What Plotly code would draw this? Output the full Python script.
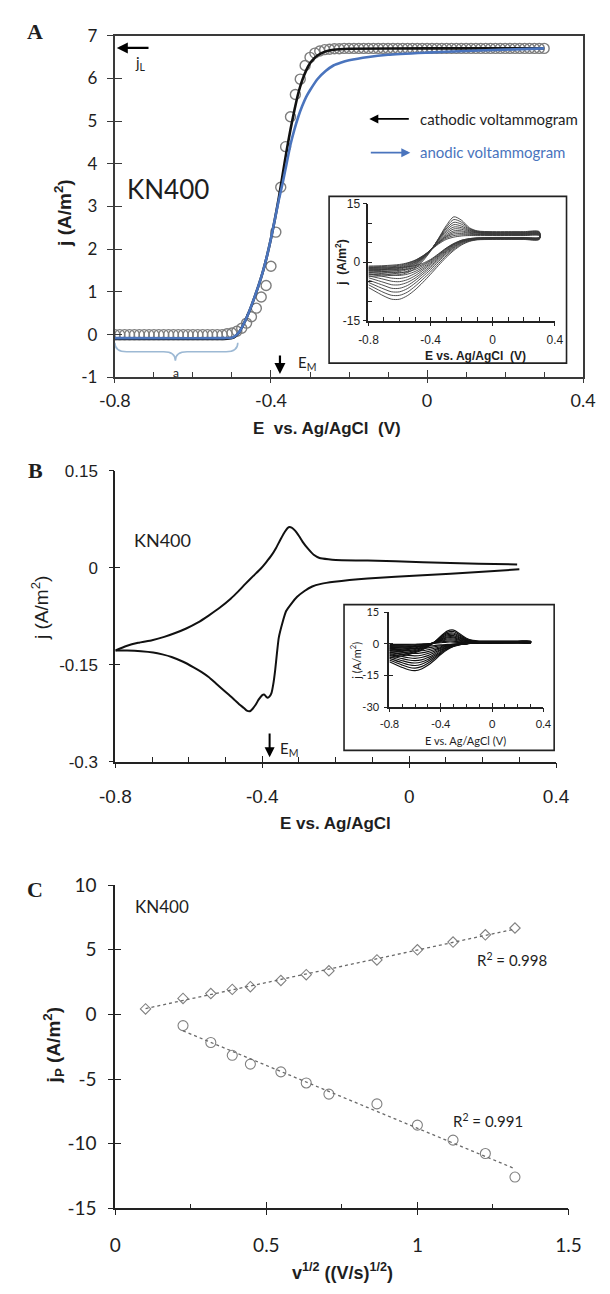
import numpy as np
import plotly.graph_objects as go

W, H = 610, 1294


def px(X):
    return X / W


def py(Y):
    return 1 - Y / H


LATO = "Lato, Carlito, sans-serif"
ARIAL = "Liberation Sans, Arial, sans-serif"
SERIF = "Liberation Serif, Times New Roman, serif"
INK = "#1e1e1e"
AXC = "#3a3a3a"
BLUE = "#4a74bd"
GREY = "#808080"

# ---------------- Panel A data ----------------
A_fit_E = [-0.8, -0.7875, -0.775, -0.7625, -0.75, -0.7375, -0.725, -0.7125, -0.7, -0.6875,
           -0.675, -0.6625, -0.65, -0.6375, -0.625, -0.6125, -0.6, -0.5875, -0.575, -0.5625,
           -0.55, -0.5375, -0.525, -0.5125, -0.5, -0.4875, -0.475, -0.4625, -0.45, -0.4375,
           -0.425, -0.4125, -0.4, -0.3875, -0.375, -0.3625, -0.35, -0.3375, -0.325, -0.3125,
           -0.3, -0.2875, -0.275, -0.2625, -0.25, -0.2375, -0.225, -0.2125, -0.2, -0.1875,
           -0.175, -0.1625, -0.15, -0.1375, -0.125, -0.1125, -0.1, -0.0875, -0.075, -0.0625,
           -0.05, -0.0375, -0.025, -0.0125, 0.0, 0.0125, 0.025, 0.0375, 0.05, 0.0625,
           0.075, 0.0875, 0.1, 0.1125, 0.125, 0.1375, 0.15, 0.1625, 0.175, 0.1875,
           0.2, 0.2125, 0.225, 0.2375, 0.25, 0.2625, 0.275, 0.2875, 0.3]
A_fit_j = ([0.0] * 23
           + [0.02, 0.04, 0.08, 0.15, 0.27, 0.42, 0.62, 0.88, 1.15, 1.6, 2.4, 3.45, 4.4,
              5.1, 5.62, 5.98, 6.3, 6.49, 6.59, 6.64, 6.67, 6.68, 6.69, 6.69, 6.7, 6.7]
           + [6.7] * 40)

A_cath_E = [-0.8, -0.6, -0.52, -0.5, -0.49, -0.48, -0.47, -0.46, -0.45, -0.44, -0.43, -0.42,
            -0.41, -0.40, -0.39, -0.38, -0.37, -0.36, -0.35, -0.34, -0.33, -0.32, -0.31, -0.30,
            -0.29, -0.28, -0.26, -0.24, -0.2, 0.0, 0.3]
A_cath_j = [-0.1, -0.1, -0.1, -0.08, -0.03, 0.08, 0.25, 0.45, 0.68, 0.93, 1.2, 1.5, 1.85, 2.25,
            2.7, 3.2, 3.75, 4.3, 4.8, 5.25, 5.65, 5.95, 6.18, 6.35, 6.46, 6.54, 6.63, 6.67,
            6.69, 6.7, 6.7]

A_anod_E = [-0.8, -0.52, -0.5, -0.49, -0.48, -0.47, -0.46, -0.45, -0.44, -0.43, -0.42, -0.41,
            -0.40, -0.39, -0.38, -0.37, -0.36, -0.35, -0.34, -0.33, -0.32, -0.31, -0.30, -0.28,
            -0.26, -0.24, -0.22, -0.2, -0.15, -0.1, 0.0, 0.1, 0.2, 0.3]
A_anod_j = [-0.08, -0.08, -0.07, -0.02, 0.08, 0.25, 0.45, 0.68, 0.93, 1.2, 1.5, 1.85, 2.25,
            2.7, 3.15, 3.55, 4.0, 4.45, 4.8, 5.1, 5.35, 5.56, 5.72, 5.99, 6.17, 6.3, 6.37,
            6.42, 6.5, 6.55, 6.6, 6.64, 6.67, 6.7]

A_xticks = [-0.8, -0.4, 0, 0.4]
A_xticktext = ["-0.8", "-0.4", "0", "0.4"]
A_xminor = [-0.7, -0.6, -0.5, -0.3, -0.2, -0.1, 0.1, 0.2, 0.3]
A_yticks = [-1, 0, 1, 2, 3, 4, 5, 6, 7]
A_yticktext = ["-1", "0", "1", "2", "3", "4", "5", "6", "7"]

A_E_M = -0.377
A_jL = 6.71

# Inset of panel A (CVs at several scan rates)
IA_E_up = [-0.8, -0.7, -0.6, -0.55, -0.5, -0.45, -0.4, -0.35, -0.3, -0.25, -0.2, -0.15, -0.1,
           0.0, 0.1, 0.2, 0.3]
IA_j_up = [
    [-1.0, -0.9, -0.6, -0.2, 0.5, 1.6, 3.0, 4.6, 5.8, 6.4, 6.7, 6.8, 6.8, 6.8, 6.8, 6.8, 6.8],
    [-1.2, -1.1, -0.8, -0.3, 0.4, 1.6, 3.1, 4.8, 6.1, 6.8, 7.0, 7.0, 7.0, 6.9, 6.9, 6.9, 6.9],
    [-1.4, -1.3, -1.0, -0.5, 0.3, 1.5, 3.1, 4.9, 6.4, 7.2, 7.3, 7.2, 7.1, 7.0, 7.0, 7.0, 7.0],
    [-1.6, -1.5, -1.2, -0.7, 0.1, 1.4, 3.1, 5.0, 6.6, 7.6, 7.7, 7.4, 7.2, 7.1, 7.1, 7.1, 7.1],
    [-1.8, -1.7, -1.4, -0.9, 0.0, 1.3, 3.1, 5.1, 6.9, 8.0, 8.0, 7.6, 7.4, 7.2, 7.2, 7.2, 7.2],
    [-2.0, -1.9, -1.6, -1.1, -0.2, 1.2, 3.1, 5.3, 7.3, 8.5, 8.4, 7.8, 7.5, 7.3, 7.3, 7.3, 7.3],
    [-2.2, -2.1, -1.8, -1.3, -0.4, 1.1, 3.1, 5.5, 7.7, 9.0, 8.8, 8.0, 7.6, 7.4, 7.4, 7.4, 7.4],
    [-2.5, -2.4, -2.1, -1.6, -0.6, 1.0, 3.1, 5.7, 8.1, 9.6, 9.2, 8.2, 7.7, 7.5, 7.5, 7.5, 7.5],
    [-2.8, -2.7, -2.4, -1.9, -0.9, 0.8, 3.0, 5.8, 8.5, 10.2, 9.7, 8.4, 7.8, 7.6, 7.6, 7.6, 7.6],
    [-3.2, -3.1, -2.8, -2.3, -1.2, 0.6, 2.9, 5.9, 8.9, 10.9, 10.2, 8.6, 7.9, 7.7, 7.7, 7.7, 7.7],
    [-3.6, -3.5, -3.2, -2.7, -1.6, 0.3, 2.8, 6.0, 9.3, 11.6, 10.7, 8.8, 8.0, 7.8, 7.8, 7.8, 7.8],
]
IA_E_dn = [0.3, 0.2, 0.1, 0.0, -0.1, -0.15, -0.2, -0.25, -0.3, -0.35, -0.4, -0.45, -0.5, -0.55,
           -0.6, -0.65, -0.7, -0.8]
IA_j_dn = [
    [6.3, 6.3, 6.3, 6.3, 6.2, 6.0, 5.6, 4.8, 3.6, 2.1, 0.7, -0.3, -0.9, -1.2, -1.4, -1.5, -1.5, -1.5],
    [6.3, 6.3, 6.3, 6.3, 6.2, 6.0, 5.6, 4.7, 3.5, 2.0, 0.5, -0.6, -1.4, -1.8, -2.0, -2.0, -1.9, -1.8],
    [6.2, 6.2, 6.2, 6.2, 6.1, 5.9, 5.5, 4.6, 3.4, 1.8, 0.3, -0.9, -1.9, -2.5, -2.7, -2.6, -2.4, -2.2],
    [6.2, 6.2, 6.2, 6.2, 6.1, 5.9, 5.4, 4.5, 3.2, 1.6, 0.0, -1.3, -2.4, -3.1, -3.4, -3.3, -3.0, -2.6],
    [6.1, 6.1, 6.1, 6.1, 6.0, 5.8, 5.3, 4.4, 3.0, 1.4, -0.3, -1.7, -2.9, -3.8, -4.2, -4.1, -3.7, -3.0],
    [6.1, 6.1, 6.1, 6.1, 6.0, 5.8, 5.2, 4.2, 2.8, 1.1, -0.6, -2.1, -3.5, -4.5, -5.0, -4.9, -4.4, -3.5],
    [6.0, 6.0, 6.0, 6.0, 5.9, 5.7, 5.1, 4.0, 2.6, 0.8, -1.0, -2.6, -4.1, -5.2, -5.8, -5.8, -5.2, -4.0],
    [6.0, 6.0, 6.0, 6.0, 5.9, 5.6, 5.0, 3.8, 2.3, 0.5, -1.4, -3.1, -4.7, -6.0, -6.7, -6.7, -6.0, -4.6],
    [5.9, 5.9, 5.9, 5.9, 5.8, 5.5, 4.8, 3.6, 2.0, 0.1, -1.9, -3.7, -5.4, -6.8, -7.6, -7.6, -6.9, -5.2],
    [5.9, 5.9, 5.9, 5.9, 5.8, 5.4, 4.6, 3.3, 1.6, -0.4, -2.5, -4.4, -6.2, -7.7, -8.5, -8.5, -7.8, -5.8],
    [5.8, 5.8, 5.8, 5.8, 5.7, 5.3, 4.4, 3.0, 1.2, -0.9, -3.1, -5.2, -7.1, -8.6, -9.5, -9.5, -8.7, -6.5],
]
IA_yticks = [-15, 0, 15]
IA_yticktext = ["-15", "0", "15"]
IA_yminor = [-10, -5, 5, 10]

# ---------------- Panel B data ----------------
B_E_fwd = [-0.8, -0.77, -0.738, -0.70, -0.667, -0.637, -0.607, -0.576, -0.546, -0.516, -0.486,
           -0.466, -0.446, -0.425, -0.405, -0.39, -0.375, -0.362, -0.35, -0.338, -0.328, -0.32,
           -0.31, -0.30, -0.29, -0.275, -0.26, -0.244, -0.22, -0.2, -0.113, 0.037, 0.189, 0.294]
B_j_fwd = [-0.128, -0.121, -0.116, -0.112, -0.107, -0.101, -0.094, -0.085, -0.074, -0.062, -0.048,
           -0.037, -0.025, -0.013, -0.002, 0.008, 0.019, 0.031, 0.044, 0.056, 0.0625, 0.062,
           0.057, 0.049, 0.040, 0.029, 0.020, 0.015, 0.013, 0.012, 0.011, 0.0086, 0.006, 0.005]
B_E_rev = [0.3, 0.189, 0.037, -0.113, -0.204, -0.24, -0.264, -0.285, -0.305, -0.32, -0.335, -0.345,
           -0.355, -0.36, -0.365, -0.37, -0.375, -0.38, -0.385, -0.39, -0.395, -0.40, -0.41, -0.418,
           -0.426, -0.434, -0.442, -0.45, -0.463, -0.476, -0.49, -0.506, -0.526, -0.546, -0.566,
           -0.587, -0.617, -0.647, -0.672, -0.697, -0.73, -0.768, -0.8]
B_j_rev = [-0.0025, -0.0066, -0.0117, -0.0167, -0.0218, -0.025, -0.029, -0.036, -0.045, -0.055,
           -0.067, -0.085, -0.108, -0.132, -0.159, -0.180, -0.194, -0.199, -0.201, -0.199, -0.196,
           -0.197, -0.204, -0.212, -0.218, -0.222, -0.221, -0.217, -0.211, -0.204, -0.197, -0.189,
           -0.179, -0.169, -0.161, -0.154, -0.145, -0.138, -0.134, -0.131, -0.129, -0.128, -0.128]
B_yticks = [-0.3, -0.15, 0, 0.15]
B_yticktext = ["-0.3", "-0.15", "0", "0.15"]
B_E_M = -0.380

IB_j_up = [
    [-0.3, -0.3, -0.2, -0.1, 0.0, 0.2, 0.5, 0.8, 0.8, 0.6, 0.5, 0.4, 0.4, 0.4, 0.4, 0.4, 0.4],
    [-0.8, -0.7, -0.5, -0.3, 0.0, 0.4, 0.9, 1.3, 1.3, 0.9, 0.6, 0.5, 0.5, 0.5, 0.5, 0.5, 0.5],
    [-1.3, -1.1, -0.8, -0.5, -0.1, 0.5, 1.2, 1.8, 1.8, 1.2, 0.8, 0.6, 0.6, 0.6, 0.6, 0.6, 0.6],
    [-1.8, -1.6, -1.2, -0.8, -0.2, 0.5, 1.5, 2.3, 2.3, 1.6, 1.0, 0.7, 0.7, 0.7, 0.7, 0.7, 0.7],
    [-2.3, -2.0, -1.5, -1.0, -0.3, 0.6, 1.8, 2.8, 2.8, 1.9, 1.2, 0.8, 0.8, 0.8, 0.8, 0.8, 0.8],
    [-2.9, -2.5, -1.9, -1.3, -0.4, 0.7, 2.1, 3.3, 3.3, 2.3, 1.4, 0.9, 0.9, 0.9, 0.9, 0.9, 0.9],
    [-3.5, -3.0, -2.3, -1.6, -0.6, 0.7, 2.4, 3.8, 3.9, 2.7, 1.6, 1.0, 1.0, 1.0, 1.0, 1.0, 1.0],
    [-4.2, -3.6, -2.7, -1.9, -0.8, 0.7, 2.7, 4.3, 4.5, 3.1, 1.8, 1.1, 1.0, 1.0, 1.0, 1.0, 1.0],
    [-5.0, -4.3, -3.2, -2.3, -1.0, 0.7, 3.0, 4.8, 5.1, 3.6, 2.0, 1.2, 1.1, 1.1, 1.1, 1.1, 1.1],
    [-5.8, -5.0, -3.7, -2.7, -1.2, 0.7, 3.3, 5.4, 5.8, 4.1, 2.3, 1.4, 1.2, 1.2, 1.2, 1.2, 1.2],
    [-6.6, -5.7, -4.2, -3.1, -1.4, 0.7, 3.6, 6.0, 6.5, 4.6, 2.6, 1.6, 1.3, 1.3, 1.3, 1.3, 1.3],
]
IB_j_dn = [
    [0.3, 0.3, 0.3, 0.3, 0.2, 0.2, 0.1, 0.0, -0.1, -0.3, -0.5, -0.8, -1.0, -1.2, -1.3, -1.2, -1.1, -0.9],
    [0.4, 0.4, 0.4, 0.3, 0.3, 0.2, 0.1, 0.0, -0.2, -0.5, -0.9, -1.4, -1.9, -2.2, -2.3, -2.2, -2.0, -1.6],
    [0.5, 0.5, 0.4, 0.4, 0.3, 0.2, 0.1, -0.1, -0.3, -0.7, -1.4, -2.1, -2.8, -3.3, -3.5, -3.3, -3.0, -2.4],
    [0.5, 0.5, 0.5, 0.4, 0.3, 0.2, 0.1, -0.1, -0.4, -0.9, -1.8, -2.8, -3.7, -4.3, -4.6, -4.4, -4.0, -3.1],
    [0.6, 0.6, 0.5, 0.5, 0.4, 0.3, 0.1, -0.1, -0.5, -1.1, -2.2, -3.5, -4.6, -5.4, -5.7, -5.5, -5.0, -3.9],
    [0.7, 0.7, 0.6, 0.5, 0.4, 0.3, 0.1, -0.2, -0.6, -1.4, -2.7, -4.2, -5.6, -6.5, -6.9, -6.6, -6.0, -4.6],
    [0.7, 0.7, 0.7, 0.6, 0.5, 0.3, 0.1, -0.2, -0.7, -1.6, -3.1, -4.9, -6.5, -7.6, -8.0, -7.7, -7.0, -5.4],
    [0.8, 0.8, 0.7, 0.6, 0.5, 0.3, 0.1, -0.3, -0.9, -1.9, -3.6, -5.6, -7.4, -8.6, -9.1, -8.8, -8.0, -6.1],
    [0.9, 0.9, 0.8, 0.7, 0.6, 0.4, 0.1, -0.3, -1.0, -2.2, -4.1, -6.3, -8.3, -9.7, -10.3, -9.9, -9.0, -6.9],
    [0.9, 0.9, 0.9, 0.8, 0.6, 0.4, 0.1, -0.4, -1.1, -2.5, -4.6, -7.0, -9.2, -10.8, -11.5, -11.1, -10.1, -7.7],
    [1.0, 1.0, 0.9, 0.8, 0.7, 0.4, 0.1, -0.4, -1.3, -2.8, -5.1, -7.8, -10.2, -11.9, -12.7, -12.3, -11.2, -8.5],
]
IB_yticks = [-30, -15, 0, 15]
IB_yticktext = ["-30", "-15", "0", "15"]

# ---------------- Panel C data ----------------
C_sqrt_v = [0.1, 0.224, 0.316, 0.387, 0.447, 0.548, 0.632, 0.707, 0.866, 1.0, 1.118, 1.225, 1.323]
C_jp_anodic = [0.43, 1.24, 1.62, 1.94, 2.15, 2.63, 3.08, 3.38, 4.22, 5.0, 5.6, 6.16, 6.69]
C_sqrt_v_cath = [0.224, 0.316, 0.387, 0.447, 0.548, 0.632, 0.707, 0.866, 1.0, 1.118, 1.225, 1.323]
C_jp_cathodic = [-0.86, -2.17, -3.16, -3.84, -4.44, -5.3, -6.16, -6.92, -8.56, -9.72, -10.76, -12.58]
C_xticks = [0, 0.5, 1, 1.5]
C_xticktext = ["0", "0.5", "1", "1.5"]
C_xminor = [0.25, 0.75, 1.25]
C_yticks = [-15, -10, -5, 0, 5, 10]
C_yticktext = ["-15", "-10", "-5", "0", "5", "10"]

E_ticks = [-0.8, -0.4, 0, 0.4]
E_ticktext = ["-0.8", "-0.4", "0", "0.4"]
E_minor = [-0.7, -0.6, -0.5, -0.3, -0.2, -0.1, 0.1, 0.2, 0.3]

# ---------------- Figure ----------------
fig = go.Figure()

# Panel A main
fig.add_trace(go.Scatter(x=A_fit_E, y=A_fit_j, mode="markers", xaxis="x", yaxis="y",
                         marker=dict(symbol="circle-open", size=10, color="#7d7d7d",
                                     line=dict(width=1.4))))
fig.add_trace(go.Scatter(x=A_cath_E, y=A_cath_j, mode="lines", xaxis="x", yaxis="y",
                         line=dict(color="#111111", width=2.6, shape="spline", smoothing=0.6)))
fig.add_trace(go.Scatter(x=A_anod_E, y=A_anod_j, mode="lines", xaxis="x", yaxis="y",
                         line=dict(color=BLUE, width=2.6, shape="spline", smoothing=0.6)))

# Panel A inset
for up, dn in zip(IA_j_up, IA_j_dn):
    fig.add_trace(go.Scatter(x=IA_E_up + IA_E_dn, y=up + dn, mode="lines", xaxis="x2", yaxis="y2",
                             line=dict(color="#3a3a3a", width=0.9, shape="spline", smoothing=0.8)))

# Panel B main
for xs, ys in ((B_E_fwd, B_j_fwd), (B_E_rev, B_j_rev)):
    fig.add_trace(go.Scatter(x=xs, y=ys, mode="lines", xaxis="x3", yaxis="y3",
                             line=dict(color="#111111", width=2.0, shape="spline", smoothing=0.5)))

# Panel B inset
for up, dn in zip(IB_j_up, IB_j_dn):
    fig.add_trace(go.Scatter(x=IA_E_up + IA_E_dn, y=up + dn, mode="lines", xaxis="x4", yaxis="y4",
                             line=dict(color="#111111", width=1.15, shape="spline", smoothing=0.8)))

# Panel C
fig.add_trace(go.Scatter(x=C_sqrt_v, y=C_jp_anodic, mode="markers", xaxis="x5", yaxis="y5",
                         marker=dict(symbol="diamond-open", size=8, color=GREY, line=dict(width=1.1))))
fig.add_trace(go.Scatter(x=C_sqrt_v_cath, y=C_jp_cathodic, mode="markers", xaxis="x5", yaxis="y5",
                         marker=dict(symbol="circle-open", size=10, color=GREY, line=dict(width=1.1))))
for xs, ys in ((C_sqrt_v, C_jp_anodic), (C_sqrt_v_cath, C_jp_cathodic)):
    k, b = np.polyfit(xs, ys, 1)
    xl = [min(xs), max(xs)]
    fig.add_trace(go.Scatter(x=xl, y=[k * v + b for v in xl], mode="lines", xaxis="x5", yaxis="y5",
                             line=dict(color="#6a6a6a", width=1.3, dash="dot")))

# dummy traces so overlay tick axes are drawn
for xa, ya in (("x6", "y"), ("x", "y6"), ("x7", "y2"), ("x2", "y7"), ("x8", "y3"), ("x3", "y8"),
               ("x9", "y4"), ("x4", "y9"), ("x10", "y5"), ("x5", "y10")):
    fig.add_trace(go.Scatter(x=[None], y=[None], xaxis=xa, yaxis=ya, mode="markers",
                             hoverinfo="skip"))


def base_axis(domain, rng, anchor, tickvals, minorvals=None, mirror=False, lw=1.5, lc=AXC,
              tl=6, ml=5):
    d = dict(domain=domain, range=rng, anchor=anchor, tickmode="array", tickvals=tickvals,
             ticks="inside", ticklen=tl, tickwidth=1.3, tickcolor=lc, showticklabels=False,
             showline=True, linecolor=lc, linewidth=lw, mirror=mirror, showgrid=False,
             zeroline=False, fixedrange=True)
    if minorvals:
        d["minor"] = dict(tickmode="array", tickvals=minorvals, ticks="inside", ticklen=ml,
                          tickwidth=1.1, tickcolor=lc, showgrid=False)
    return d


def over_axis(base, domain, rng, anchor, tickvals, ticktext, font, size, standoff, side, lc=AXC,
              tl=6):
    return dict(overlaying=base, domain=domain, range=rng, anchor=anchor, side=side,
                tickmode="array", tickvals=tickvals, ticktext=ticktext, ticks="outside",
                ticklen=tl, tickwidth=1.3, tickcolor=lc, showticklabels=True,
                tickfont=dict(family=font, size=size, color=INK), ticklabelstandoff=standoff,
                showline=False, showgrid=False, zeroline=False, fixedrange=True)


dA_x = [px(104), px(596.5)]
dA_y = [py(372), py(24)]
dIA_x = [px(370.7), px(566.7)]
dIA_y = [py(314.3), py(195)]
dB_x = [px(104.5), px(568)]
dB_y = [py(763.3), py(467)]
dIB_x = [px(392.7), px(554.7)]
dIB_y = [py(707.7), py(611)]
dC_x = [px(104.5), px(581)]
dC_y = [py(1218), py(889)]

rA_x, rA_y = [-0.8, 0.4], [-1, 7]
rIA_y = [-15, 15]
rB_y = [-0.3, 0.15]
rIB_y = [-30, 15]
rC_x, rC_y = [0, 1.5], [-15, 10]

layout_axes = dict(
    xaxis=base_axis(dA_x, rA_x, "y", A_xticks, A_xminor, mirror=True, lw=1.8, tl=7),
    yaxis=base_axis(dA_y, rA_y, "x", A_yticks, mirror=True, lw=1.8, tl=7),
    xaxis6=over_axis("x", dA_x, rA_x, "y", A_xticks, A_xticktext, LATO, 18, 2, "bottom", tl=5),
    yaxis6=over_axis("y", dA_y, rA_y, "x", A_yticks, A_yticktext, LATO, 17, 6, "left", tl=7),

    xaxis2=base_axis(dIA_x, rA_x, "y2", E_ticks, E_minor, lc="#222222", tl=4, ml=4),
    yaxis2=base_axis(dIA_y, rIA_y, "x2", IA_yticks, IA_yminor, lc="#222222", tl=4, ml=4),
    xaxis7=over_axis("x2", dIA_x, rA_x, "y2", E_ticks, E_ticktext, ARIAL, 12, 4, "bottom",
                     lc="#222222", tl=4),
    yaxis7=over_axis("y2", dIA_y, rIA_y, "x2", IA_yticks, IA_yticktext, ARIAL, 12, 1, "left",
                     lc="#222222", tl=4),

    xaxis3=base_axis(dB_x, rA_x, "y3", E_ticks, E_minor, lc="#222222", tl=6),
    yaxis3=base_axis(dB_y, rB_y, "x3", B_yticks, lc="#222222", tl=5),
    xaxis8=over_axis("x3", dB_x, rA_x, "y3", E_ticks, E_ticktext, ARIAL, 19, 12, "bottom",
                     lc="#222222", tl=5),
    yaxis8=over_axis("y3", dB_y, rB_y, "x3", B_yticks, B_yticktext, ARIAL, 17, 8, "left",
                     lc="#222222", tl=5),

    xaxis4=base_axis(dIB_x, rA_x, "y4", E_ticks, E_minor, lc="#222222", tl=4, ml=3),
    yaxis4=base_axis(dIB_y, rIB_y, "x4", IB_yticks, lc="#222222", tl=4),
    xaxis9=over_axis("x4", dIB_x, rA_x, "y4", E_ticks, E_ticktext, LATO, 11, 3, "bottom",
                     lc="#222222", tl=4),
    yaxis9=over_axis("y4", dIB_y, rIB_y, "x4", IB_yticks, IB_yticktext, LATO, 11, 3, "left",
                     lc="#222222", tl=4),

    xaxis5=base_axis(dC_x, rC_x, "y5", C_xticks, C_xminor, lc="#222222", tl=7),
    yaxis5=base_axis(dC_y, rC_y, "x5", C_yticks, lc="#222222", tl=6),
    xaxis10=over_axis("x5", dC_x, rC_x, "y5", C_xticks, C_xticktext, LATO, 19, 14, "bottom",
                      lc="#222222", tl=6),
    yaxis10=over_axis("y5", dC_y, rC_y, "x5", C_yticks, C_yticktext, LATO, 19, 8, "left",
                      lc="#222222", tl=6),
)


def note(text, X, Y, font, size, color=INK, angle=0, xanchor="center"):
    return dict(text=text, x=px(X), y=py(Y), xref="paper", yref="paper", showarrow=False,
                xanchor=xanchor, yanchor="middle", textangle=angle,
                font=dict(family=font, size=size, color=color))


def arrow(x, y, ax, ay, xr, yr, color="black", width=2.2, head=2, size=1.0):
    return dict(x=x, y=y, ax=ax, ay=ay, xref=xr, yref=yr, axref=xr, ayref=yr, text="",
                showarrow=True, arrowhead=head, arrowsize=size, arrowwidth=width,
                arrowcolor=color)


annotations = [
    # panel letters
    note("<b>A</b>", 20, 20, SERIF, 22),
    note("<b>B</b>", 20, 467, SERIF, 22),
    note("<b>C</b>", 20, 893, SERIF, 22),
    # Panel A
    note("<b>j (A/m<sup>2</sup>)</b>", 50, 205, ARIAL, 19, angle=-90),
    note("<b>E  vs. Ag/AgCl  (V)</b>", 327, 424, ARIAL, 17),
    note("KN400", 160, 180, LATO, 26),
    note("j<sub>L</sub>", 131, 52, LATO, 15),
    note("E<sub>M</sub>", 295, 357, LATO, 15, xanchor="left"),
    note("a", 168, 367, LATO, 12),
    note("cathodic voltammogram", 423, 109, LATO, 15, xanchor="left"),
    note("anodic voltammogram", 423, 143, LATO, 15, color=BLUE, xanchor="left"),
    arrow(-0.795, A_jL, -0.71, A_jL, "x", "y", width=2.2),
    arrow(A_E_M, -0.92, A_E_M, -0.45, "x", "y", width=2.2),
    arrow(-0.148, 5.05, -0.043, 5.05, "x", "y", width=1.8),
    arrow(-0.043, 4.26, -0.148, 4.26, "x", "y", color=BLUE, width=1.8),
    # Inset A
    note("<b>j  (A/m<sup>2</sup>)</b>", 342, 255, ARIAL, 12, angle=-90),
    note("<b>E vs. Ag/AgCl  (V)</b>", 483, 350, ARIAL, 12),
    # Panel B
    note("j (A/m<sup>2</sup>)", 25, 607, ARIAL, 19, angle=-90),
    note("<b>E vs. Ag/AgCl</b>", 336, 826, ARIAL, 17),
    note("KN400", 154, 538, LATO, 18),
    note("E<sub>M</sub>", 276, 750, LATO, 15, xanchor="left"),
    arrow(B_E_M, -0.293, B_E_M, -0.254, "x3", "y3", width=2.0),
    # Inset B
    note("j (A/m<sup>2</sup>)", 357, 660, LATO, 11, angle=-90),
    note("E vs. Ag/AgCl (V)", 473, 742, LATO, 11),
    # Panel C
    note("<b>j<sub>P</sub> (A/m<sup>2</sup>)</b>", 39, 1052, ARIAL, 19, angle=-90),
    note("<b>v<sup>1/2</sup> ((V/s)<sup>1/2</sup>)</b>", 343, 1282, ARIAL, 18),
    note("KN400", 154, 911, LATO, 17),
    note("R<sup>2</sup> = 0.998", 522, 965, LATO, 15),
    note("R<sup>2</sup> = 0.991", 496, 1129, LATO, 15),
]

brace_color = "#9db9d4"
bx0, bx1, btip = -0.8, -0.485, -0.645
by0, by1, bytip = -0.19, -0.40, -0.61
brace_path = (f"M {bx0},{by0} Q {bx0},{by1} {bx0 + 0.03},{by1} L {btip - 0.03},{by1} "
              f"Q {btip},{by1} {btip},{bytip} Q {btip},{by1} {btip + 0.03},{by1} "
              f"L {bx1 - 0.03},{by1} Q {bx1},{by1} {bx1},{by0}")

shapes = [
    dict(type="rect", xref="paper", yref="paper", x0=px(329.3), x1=px(579), y0=py(357.5),
         y1=py(187.7), line=dict(color="#222222", width=1.6), fillcolor="rgba(0,0,0,0)"),
    dict(type="rect", xref="paper", yref="paper", x0=px(345), x1=px(566), y0=py(751.7),
         y1=py(603.3), line=dict(color="#222222", width=1.6), fillcolor="rgba(0,0,0,0)"),
    dict(type="path", xref="x", yref="y", path=brace_path,
         line=dict(color=brace_color, width=1.6)),
]

fig.update_layout(
    width=W, height=H, margin=dict(l=0, r=0, t=0, b=0),
    paper_bgcolor="white", plot_bgcolor="rgba(0,0,0,0)",
    showlegend=False, annotations=annotations, shapes=shapes,
    **layout_axes,
)

fig.write_html("out.html")
